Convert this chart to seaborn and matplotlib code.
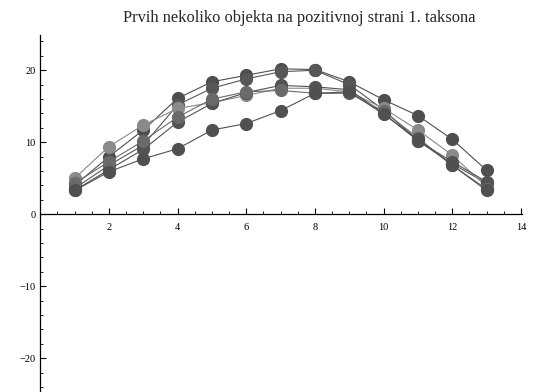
import matplotlib
matplotlib.use("Agg")
import matplotlib.pyplot as plt
from matplotlib.ticker import MultipleLocator
import pandas as pd
import seaborn as sns

# values, x = 1..13
xs = list(range(1, 14))
s1 = [4.0, 8.0, 11.7, 16.1, 18.4, 19.3, 20.2, 20.1, 18.4, 15.9, 13.7, 10.4, 6.1]
s2 = [3.6, 6.8, 9.6, 15.2, 17.5, 18.8, 19.8, 20.0, 18.0, 14.5, 10.2, 7.0, 4.3]
s3 = [5.0, 9.4, 12.4, 14.7, 15.5, 16.5, 17.5, 17.5, 17.0, 14.7, 11.7, 8.2, 3.8]
s4 = [3.3, 6.2, 9.0, 12.8, 15.4, 16.9, 17.9, 17.7, 17.3, 14.0, 10.2, 7.3, 4.5]
s5 = [4.3, 7.3, 10.2, 13.5, 16.0, 17.0, 17.2, 16.8, 16.8, 14.3, 10.6, 6.8, 3.5]
s6 = [3.3, 5.9, 7.7, 9.1, 11.7, 12.6, 14.4, 16.8, 17.0, 13.9, 10.4, 6.8, 3.3]
series = {"s1": s1, "s2": s2, "s3": s3, "s4": s4, "s5": s5, "s6": s6}
colors = ["#4e4e4e", "#575757", "#8a8a8a", "#525252", "#6a6a6a", "#505050"]

title = "Prvih nekoliko objekta na pozitivnoj strani 1. taksona"

rows = []
for name, vals in series.items():
    for x, y in zip(xs, vals):
        rows.append({"serija": name, "x": x, "y": y})
df = pd.DataFrame(rows)

sns.set_style("white")
plt.rcParams["font.family"] = ["Liberation Serif", "DejaVu Serif"]

fig = plt.figure(figsize=(5.34, 3.92), dpi=100)
ax = fig.add_axes([40.3 / 534, 0.0, (522 - 40.3) / 534, 1 - 35 / 392])

sns.lineplot(data=df, x="x", y="y", hue="serija", palette=colors, marker="o",
             markersize=9.5, markeredgewidth=0, linewidth=0.8, legend=False, ax=ax)

ax.set_xlim(0, 14.03)
ax.set_ylim(-24.7, 24.9)
ax.set_xlabel("")
ax.set_ylabel("")

for side in ["top", "right"]:
    ax.spines[side].set_visible(False)
ax.spines["left"].set_position("zero")
ax.spines["bottom"].set_position("zero")
for side in ["left", "bottom"]:
    ax.spines[side].set_color("black")
    ax.spines[side].set_linewidth(0.9)

ax.xaxis.set_major_locator(MultipleLocator(2))
ax.xaxis.set_minor_locator(MultipleLocator(0.5))
ax.yaxis.set_major_locator(MultipleLocator(10))
ax.yaxis.set_minor_locator(MultipleLocator(2))
ax.set_xticks([2, 4, 6, 8, 10, 12, 14])
ax.tick_params(which="both", bottom=True, left=True, top=False, right=False)
ax.tick_params(which="major", direction="in", length=4, width=0.8, labelsize=7.5, colors="black")
ax.tick_params(which="minor", direction="in", length=2.2, width=0.6, color="black")
ax.tick_params(axis="x", pad=6)

fig.text(299.5 / 534, 1 - 18 / 392, title, ha="center", va="center", fontsize=11.9)

fig.savefig("out.png", dpi=100)
